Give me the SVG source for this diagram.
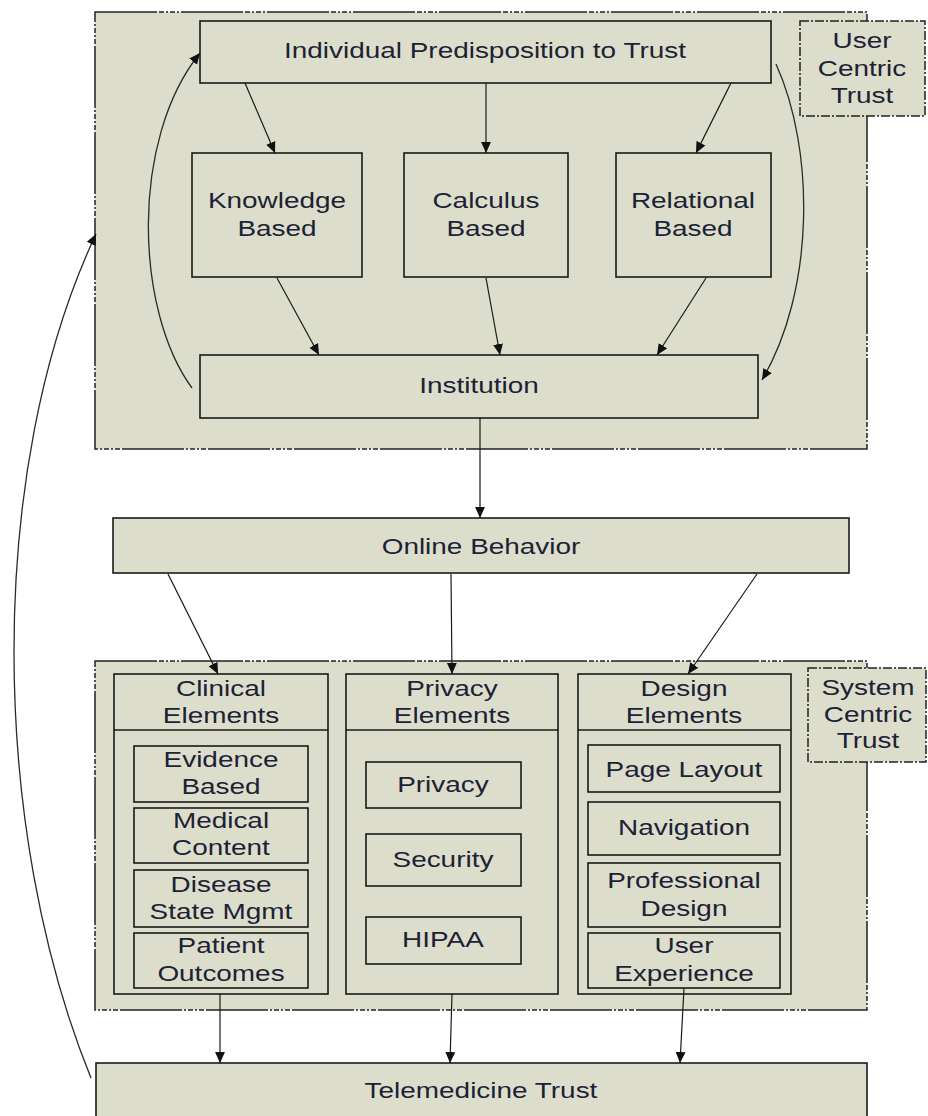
<svg xmlns="http://www.w3.org/2000/svg" width="928" height="1116" viewBox="0 0 928 1116">
<style>
.bg{fill:#fff}
.outer{fill:#dcdecb;stroke:#222;stroke-width:1.5;stroke-dasharray:62 2 5 2 2 2 5 2 2 2}
.lbl{fill:#dcdecb;stroke:#222;stroke-width:1.5;stroke-dasharray:9 2 2 2}
.box{fill:#dcdecb;stroke:#1a1a1a;stroke-width:1.6}
.t{font-family:"Liberation Sans",Arial,sans-serif;font-size:22px;fill:#1c2236;text-anchor:middle;transform-box:fill-box;transform-origin:center;transform:scaleX(1.27)}
.c{fill:none;stroke:#1a1a1a;stroke-width:1.2}
.cd{fill:none;stroke:#2a2a2a;stroke-width:1.3}
</style>
<defs>
<marker id="ah" viewBox="0 0 10 10" refX="10" refY="5" markerWidth="11" markerHeight="11" markerUnits="userSpaceOnUse" orient="auto">
<path d="M0,0.5 L10,5 L0,9.5 Z" fill="#111"/>
</marker>
</defs>
<rect class="bg" x="0" y="0" width="928" height="1116"/>

<g id="user-centric-region">
<rect class="outer" x="95" y="12" width="772" height="437"/>
</g>
<g id="user-centric-label">
<rect class="lbl" x="800" y="21" width="125" height="95"/>
<text class="t" x="862" y="48">User</text>
<text class="t" x="862" y="76">Centric</text>
<text class="t" x="862" y="103">Trust</text>
</g>
<g id="individual">
<rect class="box" x="200" y="21" width="571" height="62"/>
<text class="t" x="485" y="58">Individual Predisposition to Trust</text>
</g>
<g id="knowledge">
<rect class="box" x="192" y="153" width="170" height="124"/>
<text class="t" x="277" y="208">Knowledge</text>
<text class="t" x="277" y="236">Based</text>
</g>
<g id="calculus">
<rect class="box" x="404" y="153" width="164" height="124"/>
<text class="t" x="486" y="208">Calculus</text>
<text class="t" x="486" y="236">Based</text>
</g>
<g id="relational">
<rect class="box" x="616" y="153" width="155" height="124"/>
<text class="t" x="693" y="208">Relational</text>
<text class="t" x="693" y="236">Based</text>
</g>
<g id="institution">
<rect class="box" x="200" y="355" width="558" height="63"/>
<text class="t" x="479" y="393">Institution</text>
</g>

<g id="online-behavior">
<rect class="box" x="113" y="518" width="736" height="55"/>
<text class="t" x="481" y="554">Online Behavior</text>
</g>

<g id="system-centric-region">
<rect class="outer" x="95" y="661" width="772" height="349"/>
</g>
<g id="system-centric-label">
<rect class="lbl" x="808" y="668" width="118" height="94"/>
<text class="t" x="868" y="695">System</text>
<text class="t" x="868" y="722">Centric</text>
<text class="t" x="868" y="748">Trust</text>
</g>

<g id="clinical-elements">
<rect class="box" x="114" y="674" width="214" height="320"/>
<line x1="114" y1="730" x2="328" y2="730" stroke="#1a1a1a" stroke-width="1.6"/>
<text class="t" x="221" y="696">Clinical</text>
<text class="t" x="221" y="723">Elements</text>
</g>
<g id="evidence-based">
<rect class="box" x="134" y="746" width="174" height="56"/>
<text class="t" x="221" y="767">Evidence</text>
<text class="t" x="221" y="794">Based</text>
</g>
<g id="medical-content">
<rect class="box" x="134" y="808" width="174" height="55"/>
<text class="t" x="221" y="828">Medical</text>
<text class="t" x="221" y="855">Content</text>
</g>
<g id="disease-state">
<rect class="box" x="134" y="870" width="174" height="57"/>
<text class="t" x="221" y="892">Disease</text>
<text class="t" x="221" y="919">State Mgmt</text>
</g>
<g id="patient-outcomes">
<rect class="box" x="134" y="933" width="174" height="55"/>
<text class="t" x="221" y="953">Patient</text>
<text class="t" x="221" y="981">Outcomes</text>
</g>

<g id="privacy-elements">
<rect class="box" x="346" y="674" width="212" height="320"/>
<line x1="346" y1="730" x2="558" y2="730" stroke="#1a1a1a" stroke-width="1.6"/>
<text class="t" x="452" y="696">Privacy</text>
<text class="t" x="452" y="723">Elements</text>
</g>
<g id="privacy">
<rect class="box" x="366" y="762" width="155" height="46"/>
<text class="t" x="443" y="792">Privacy</text>
</g>
<g id="security">
<rect class="box" x="366" y="834" width="155" height="52"/>
<text class="t" x="443" y="867">Security</text>
</g>
<g id="hipaa">
<rect class="box" x="366" y="917" width="155" height="47"/>
<text class="t" x="443" y="947">HIPAA</text>
</g>

<g id="design-elements">
<rect class="box" x="578" y="674" width="213" height="320"/>
<line x1="578" y1="730" x2="791" y2="730" stroke="#1a1a1a" stroke-width="1.6"/>
<text class="t" x="684" y="696">Design</text>
<text class="t" x="684" y="723">Elements</text>
</g>
<g id="page-layout">
<rect class="box" x="588" y="745" width="192" height="47"/>
<text class="t" x="684" y="777">Page Layout</text>
</g>
<g id="navigation">
<rect class="box" x="588" y="802" width="192" height="53"/>
<text class="t" x="684" y="835">Navigation</text>
</g>
<g id="professional-design">
<rect class="box" x="588" y="863" width="192" height="64"/>
<text class="t" x="684" y="888">Professional</text>
<text class="t" x="684" y="916">Design</text>
</g>
<g id="user-experience">
<rect class="box" x="588" y="933" width="192" height="55"/>
<text class="t" x="684" y="953">User</text>
<text class="t" x="684" y="981">Experience</text>
</g>

<g id="telemedicine-trust">
<rect class="box" x="96" y="1063" width="771" height="60"/>
<text class="t" x="481" y="1098">Telemedicine Trust</text>
</g>

<g id="connectors">
<line class="c" x1="245" y1="83" x2="275" y2="153" marker-end="url(#ah)"/>
<line class="c" x1="486" y1="83" x2="486" y2="153" marker-end="url(#ah)"/>
<line class="c" x1="731" y1="83" x2="696" y2="153" marker-end="url(#ah)"/>
<line class="c" x1="277" y1="278" x2="319" y2="355" marker-end="url(#ah)"/>
<line class="c" x1="486" y1="278" x2="500" y2="355" marker-end="url(#ah)"/>
<line class="c" x1="706" y1="278" x2="657" y2="355" marker-end="url(#ah)"/>
<path class="cd" d="M192,388 C135,310 130,140 200,53" marker-end="url(#ah)"/>
<path class="cd" d="M776,64 C815,150 815,290 762,380" marker-end="url(#ah)"/>
<line class="c" x1="480" y1="418" x2="480" y2="518" marker-end="url(#ah)"/>
<line class="c" x1="168" y1="574" x2="218" y2="674" marker-end="url(#ah)"/>
<line class="c" x1="451" y1="574" x2="452" y2="674" marker-end="url(#ah)"/>
<line class="c" x1="757" y1="574" x2="688" y2="674" marker-end="url(#ah)"/>
<line class="c" x1="220" y1="994" x2="220" y2="1063" marker-end="url(#ah)"/>
<line class="c" x1="452" y1="994" x2="450" y2="1063" marker-end="url(#ah)"/>
<line class="c" x1="684" y1="988" x2="680" y2="1063" marker-end="url(#ah)"/>
<path class="cd" d="M91,1078 C-10,830 -15,470 96,234" marker-end="url(#ah)"/>
</g>
</svg>
